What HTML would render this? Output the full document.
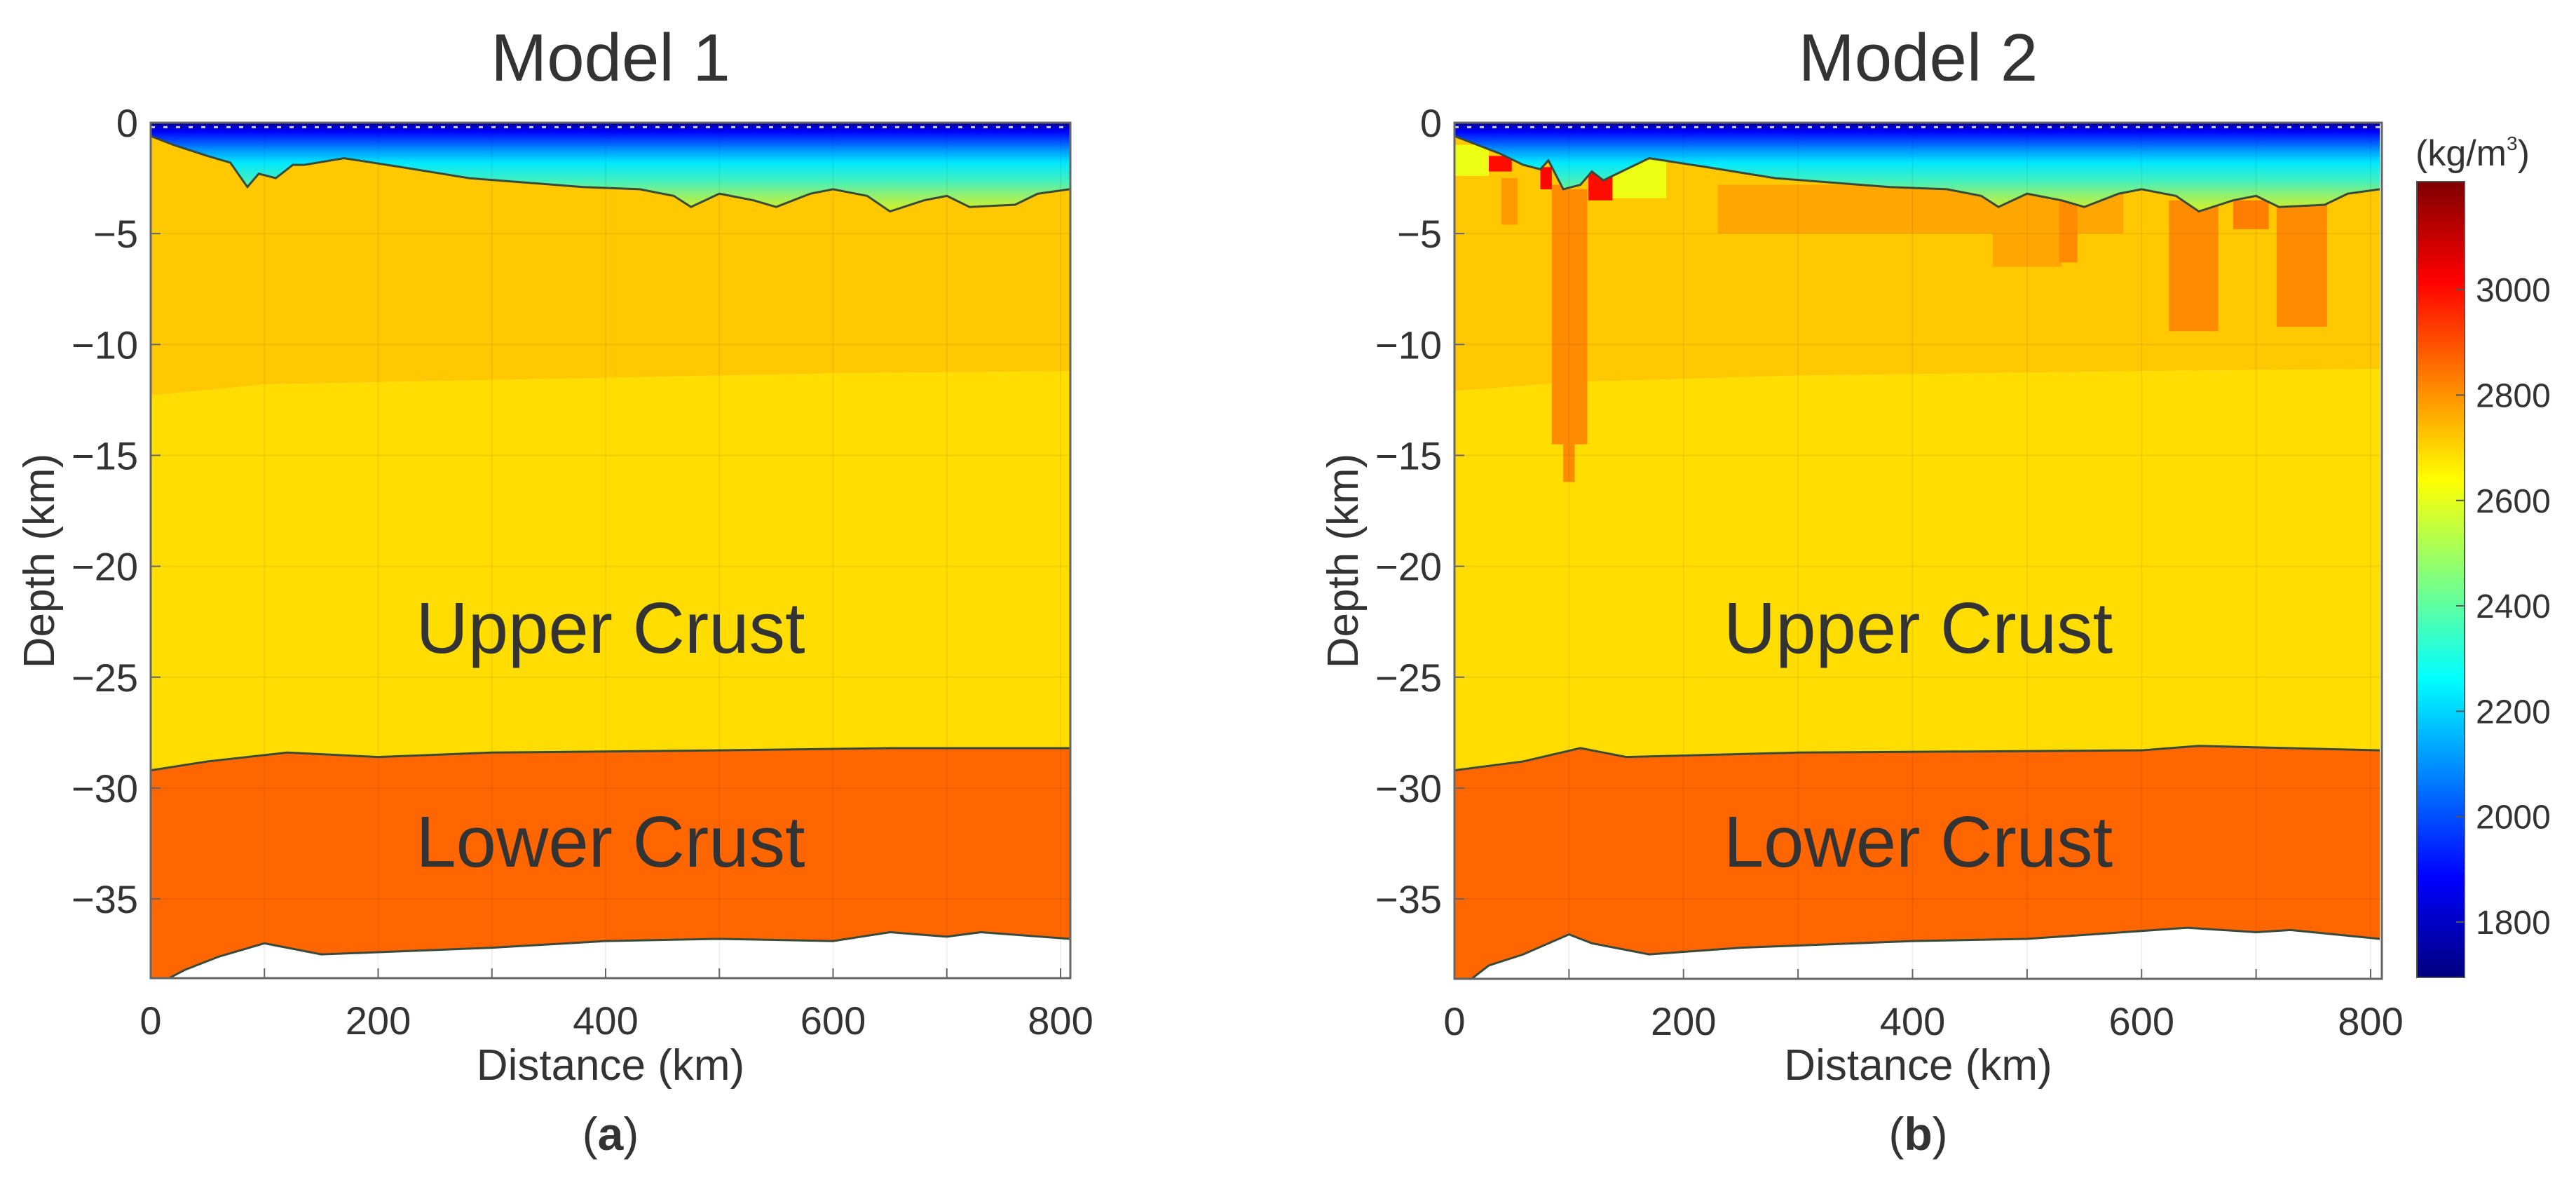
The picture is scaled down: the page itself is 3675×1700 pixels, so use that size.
<!DOCTYPE html>
<html><head><meta charset="utf-8"><style>
html,body{margin:0;padding:0;background:#fff;}
svg{display:block;}
text{font-family:"Liberation Sans",sans-serif;fill:#333;}
</style></head><body>
<svg id="fig" width="3675" height="1700" viewBox="0 0 3675 1700" xmlns="http://www.w3.org/2000/svg">
<defs>
<linearGradient id="jet" x1="0" y1="1" x2="0" y2="0">
<stop offset="0" stop-color="#00007F"/><stop offset="0.125" stop-color="#0000FF"/><stop offset="0.375" stop-color="#00FFFF"/><stop offset="0.625" stop-color="#FFFF00"/><stop offset="0.875" stop-color="#FF0000"/><stop offset="1" stop-color="#7F0000"/>
</linearGradient>
</defs>
</svg>
<script>
const xTicks=[0,200,400,600,800];
const xMinor=[100,300,500,700];
const yTicks=[0,-5,-10,-15,-20,-25,-30,-35];
const cbTicks=[1800,2000,2200,2400,2600,2800,3000];
// Model 1
const sea1X=[0,20,50,70,85,95,110,125,135,170,220,280,380,430,460,475,500,530,550,580,600,630,650,680,700,720,760,780,808];
const sea1D=[0.6,1.0,1.5,1.8,2.9,2.3,2.5,1.9,1.9,1.6,2.0,2.5,2.9,3.0,3.3,3.8,3.2,3.5,3.8,3.2,3.0,3.3,4.0,3.5,3.3,3.8,3.7,3.2,3.0];
const mid1X=[0,100,300,600,808];
const mid1D=[12.3,11.8,11.6,11.3,11.2];
const bnd1X=[0,50,120,200,300,500,650,808];
const bnd1D=[29.2,28.8,28.4,28.6,28.4,28.3,28.2,28.2];
const moho1X=[0,15,30,60,100,120,150,200,300,400,500,600,650,700,730,808];
const moho1D=[38.6,38.6,38.2,37.6,37.0,37.2,37.5,37.4,37.2,36.9,36.8,36.9,36.5,36.7,36.5,36.8];
// Model 2
const sea2X=[0,20,40,60,75,82,95,110,120,130,170,220,280,380,430,460,475,500,530,550,580,600,630,650,680,700,720,760,780,808];
const sea2D=[0.6,1.0,1.4,1.9,2.1,1.7,3.0,2.8,2.2,2.6,1.6,2.0,2.5,2.9,3.0,3.3,3.8,3.2,3.5,3.8,3.2,3.0,3.3,4.0,3.5,3.3,3.8,3.7,3.2,3.0];
const mid2X=[0,100,300,600,808];
const mid2D=[12.1,11.7,11.4,11.2,11.1];
const bnd2X=[0,60,110,150,300,600,650,808];
const bnd2D=[29.2,28.8,28.2,28.6,28.4,28.3,28.1,28.3];
const moho2X=[0,15,30,60,100,120,170,250,400,500,640,700,730,808];
const moho2D=[38.6,38.6,38.0,37.5,36.6,37.0,37.5,37.2,36.9,36.8,36.3,36.5,36.4,36.8];
// Model 2 density anomalies (km extents, kg/m3)
const anomX0=[0,130,230,470,528,624,680,718,41,85,97,95,30,75,117];
const anomX1=[30,185,584,530,544,667,711,762,55,97,116,105,50,85,138];
const anomTop=[1.0,1.5,2.8,3.5,3.3,3.5,3.5,3.5,2.5,2.8,3.0,3.0,1.5,2.0,2.2];
const anomBot=[2.4,3.4,5.0,6.5,6.3,9.4,4.8,9.2,4.6,14.5,14.5,16.2,2.2,3.0,3.5];
const anomRho=[2610,2610,2770,2770,2810,2810,2830,2810,2790,2810,2810,2810,3000,3010,3000];

const NS='http://www.w3.org/2000/svg';
const svg=document.getElementById('fig');
function el(tag,attrs,parent){const e=document.createElementNS(NS,tag);for(const k in attrs)e.setAttribute(k,attrs[k]);(parent||svg).appendChild(e);return e;}
function jet(v){const f=Math.max(0,Math.min(1,(v-1695)/1510));
 const st=[[0,0,0,127],[0.125,0,0,255],[0.375,0,255,255],[0.625,255,255,0],[0.875,255,0,0],[1,127,0,0]];
 for(let i=0;i<st.length-1;i++){if(f<=st[i+1][0]){const t=(f-st[i][0])/(st[i+1][0]-st[i][0]);const c=[1,2,3].map(j=>Math.round(st[i][j]+t*(st[i+1][j]-st[i][j])));return 'rgb('+c.join(',')+')';}}return '#7F0000';}

function panel(P){
 const g=el('g',{});
 
 
 const xs=x=>P.L+(x/800)*(P.X800-P.L);
 const ys=d=>P.T+d*P.pk;
 const cid='clip'+P.id;
 const cp=el('clipPath',{id:cid},g);el('rect',{x:P.L,y:P.T,width:P.R-P.L,height:P.B-P.T},cp);
 const gr=el('linearGradient',{id:'sea'+P.id,gradientUnits:'userSpaceOnUse',x1:0,y1:ys(0),x2:0,y2:ys(4)},g);
 [[0,'#000090'],[0.1,'#0000FF'],[0.3,'#0090FF'],[0.45,'#00E8FF'],[0.65,'#40F0C0'],[0.85,'#A0F060'],[1,'#D8F020']].forEach(s=>el('stop',{offset:s[0],'stop-color':s[1]},gr));
 const pg=el('g',{'clip-path':'url(#'+cid+')'},g);
 const line=(X,D)=>X.map((x,i)=>xs(x)+','+ys(D[i])).join(' ');
 const rev=(X,D)=>X.map((x,i)=>xs(x)+','+ys(D[i])).reverse().join(' ');
 let e;
 e=el('polygon',{points:line(P.bX,P.bD)+' '+rev(P.mX,P.mD),fill:'#FF6600'},pg);
 
 e=el('polygon',{points:line(P.midX,P.midD)+' '+rev(P.bX,P.bD),fill:'#FFDD00'},pg);
 
 e=el('polygon',{points:line(P.sX,P.sD)+' '+rev(P.midX,P.midD),fill:'#FFC800'},pg);
 
 if(P.anom){for(let i=0;i<anomX0.length;i++){
  const r=el('rect',{x:xs(anomX0[i]),y:ys(anomTop[i]),width:xs(anomX1[i])-xs(anomX0[i]),height:ys(anomBot[i])-ys(anomTop[i]),fill:jet(anomRho[i])},pg);
  
  
 }}
 e=el('polygon',{points:xs(0)+','+ys(0)+' '+line(P.sX,P.sD)+' '+xs(808)+','+ys(0),fill:'url(#sea'+P.id+')'},pg);
 
 el('line',{x1:P.L,x2:P.R,y1:ys(0.2),y2:ys(0.2),stroke:'#fff','stroke-width':3,'stroke-dasharray':'6 12',opacity:0.8},pg);
 xTicks.concat(xMinor).forEach(x=>el('line',{x1:xs(x),x2:xs(x),y1:P.T,y2:P.B,stroke:'#000','stroke-opacity':0.06,'stroke-width':2},pg));
 yTicks.forEach(y=>el('line',{x1:P.L,x2:P.R,y1:ys(-y),y2:ys(-y),stroke:'#000','stroke-opacity':0.06,'stroke-width':2},pg));
 [[P.sX,P.sD,'seafloor-line'],[P.bX,P.bD,'conrad-line'],[P.mX,P.mD,'moho-line']].forEach(a=>{
  const l=el('polyline',{points:line(a[0],a[1]),fill:'none',stroke:'#3a4a3a','stroke-width':3},pg);
  });
 e=el('rect',{x:P.L,y:P.T,width:P.R-P.L,height:P.B-P.T,fill:'none',stroke:'#666','stroke-width':3},g);
 
 xTicks.concat(xMinor).forEach(x=>el('line',{x1:xs(x),x2:xs(x),y1:P.B,y2:P.B-14,stroke:'#666','stroke-width':2},g));
 yTicks.forEach(y=>el('line',{x1:P.L,x2:P.L+14,y1:ys(-y),y2:ys(-y),stroke:'#666','stroke-width':2},g));
 xTicks.forEach(x=>{const t=el('text',{x:xs(x),y:P.B+80,'font-size':56,'text-anchor':'middle'},g);t.textContent=x;
  });
 yTicks.forEach(y=>{const t=el('text',{x:P.L-18,y:ys(-y)+20,'font-size':56,'text-anchor':'end'},g);t.textContent=y===0?'0':'\u2212'+(-y);
  });
 const cx=(P.L+P.R)/2;
 let t=el('text',{x:cx,y:115,'font-size':96,'text-anchor':'middle'},g);t.textContent=P.title;
 
 t=el('text',{x:cx,y:1540,'font-size':62,'text-anchor':'middle'},g);t.textContent='Distance (km)';
 
 t=el('text',{x:0,y:0,'font-size':62,'text-anchor':'middle',transform:'translate('+(P.L-138)+',800) rotate(-90)'},g);t.textContent='Depth (km)';
 
 t=el('text',{x:cx,y:ys(21.5)+76,'font-size':103,'text-anchor':'middle'},g);t.textContent='Upper Crust';
 
 t=el('text',{x:cx,y:ys(31.2)+74,'font-size':103,'text-anchor':'middle'},g);t.textContent='Lower Crust';
 
 t=el('text',{x:cx,y:1640,'font-size':66,'text-anchor':'middle','font-family':'Liberation Serif, serif'},g);
 t.innerHTML='(<tspan font-weight="bold">'+P.letter+'</tspan>)';
 
}
panel({id:1,name:'panel-model-1',title:'Model 1',letter:'a',L:215,R:1527,X800:1513,T:175,B:1395,pk:31.63,sX:sea1X,sD:sea1D,midX:mid1X,midD:mid1D,bX:bnd1X,bD:bnd1D,mX:moho1X,mD:moho1D,anom:false});
panel({id:2,name:'panel-model-2',title:'Model 2',letter:'b',L:2075,R:3398,X800:3382,T:175,B:1396,pk:31.63,sX:sea2X,sD:sea2D,midX:mid2X,midD:mid2D,bX:bnd2X,bD:bnd2D,mX:moho2X,mD:moho2D,anom:true});
const cbg=el('g',{});


const cbT=259,cbB=1394,cbMin=1695,cbMax=3205;
const cy=v=>cbB-(v-cbMin)/(cbMax-cbMin)*(cbB-cbT);
el('rect',{x:3448,y:cbT,width:68,height:cbB-cbT,fill:'url(#jet)',stroke:'#555','stroke-width':2},cbg);
cbTicks.forEach(v=>{el('line',{x1:3504,x2:3516,y1:cy(v),y2:cy(v),stroke:'#555','stroke-width':2},cbg);
 const t=el('text',{x:3532,y:cy(v)+17,'font-size':48},cbg);t.textContent=v;
 });
const ct=el('text',{x:3446,y:236,'font-size':52},cbg);
ct.innerHTML='(kg/m<tspan font-size="28" dy="-22">3</tspan><tspan dy="22">)</tspan>';


</script>
</body></html>
